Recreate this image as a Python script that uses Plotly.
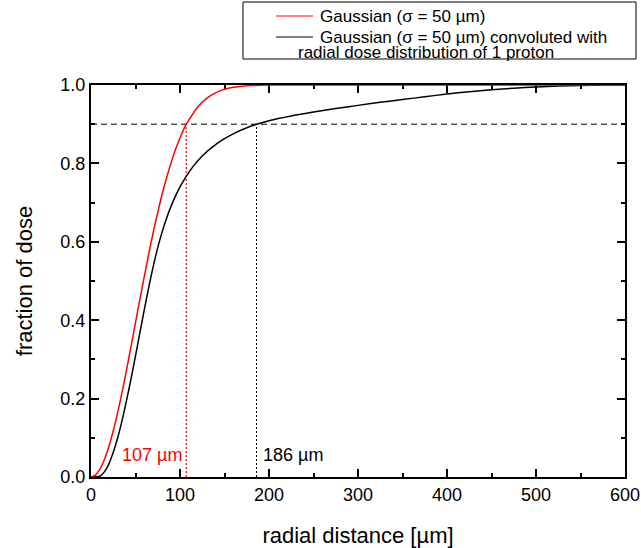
import plotly.graph_objects as go

# ---- data ----
r_gauss = [0, 5, 10, 15, 20, 25, 30, 35, 40, 45, 50, 55, 60, 65, 70, 75, 80, 85, 90, 95,
           100, 107, 110, 120, 130, 140, 150, 160, 170, 180, 200, 250, 300, 400, 500, 600]
f_gauss = [0.0, 0.005, 0.020, 0.044, 0.077, 0.118, 0.165, 0.217, 0.274, 0.333, 0.394,
           0.454, 0.513, 0.570, 0.625, 0.675, 0.722, 0.764, 0.802, 0.836,
           0.865, 0.900, 0.911, 0.944, 0.966, 0.980, 0.989, 0.994, 0.997, 0.9985, 0.9997,
           1.0, 1.0, 1.0, 1.0, 1.0]

r_conv = [0, 5, 10, 15, 20, 25, 30, 35, 40, 45, 50, 55, 60, 65, 70, 75, 80, 85, 90, 95,
          100, 107, 115, 125, 137, 150, 162, 175, 186, 200, 225, 250, 275, 300, 325, 350,
          375, 400, 425, 450, 475, 500, 525, 550, 575, 600]
f_conv = [0.0, 0.0005, 0.002, 0.013, 0.033, 0.063, 0.100, 0.145, 0.196, 0.251, 0.309,
          0.369, 0.428, 0.485, 0.538, 0.585, 0.626, 0.661, 0.691, 0.717,
          0.740, 0.767, 0.793, 0.819, 0.843, 0.863, 0.878, 0.891, 0.900, 0.909, 0.921,
          0.931, 0.940, 0.948, 0.9558, 0.963, 0.970, 0.977, 0.983, 0.988, 0.992, 0.995,
          0.9975, 0.999, 1.0, 1.0]

threshold = 0.9
r90_gauss = 107
r90_conv = 186
x_range = [0, 600]
y_range = [0, 1.0]

legend_names = ["Gaussian (σ = 50 µm)",
                "Gaussian (σ = 50 µm) convoluted with",
                "radial dose distribution of 1 proton"]
RED = "#ff0000"
BLACK = "#000000"
FONT = "Liberation Sans, Arial, sans-serif"

# page geometry (body margin removed by post_script, figure fills the window)
W, H = 641, 548
# plot area in window pixels: left 91, right 625, top 85, bottom 477
L, R, T, B = 91, 641 - 625, 85, 548 - 477
PW, PH = W - L - R, H - T - B


def px_x(x):
    return (x - L) / PW


def px_y(y):
    return (H - B - y) / PH


fig = go.Figure()

# reference lines
fig.add_trace(go.Scatter(x=x_range, y=[threshold, threshold], mode="lines",
                         line=dict(color=BLACK, width=1, dash="6px,4px"),
                         showlegend=False, hoverinfo="skip"))
fig.add_trace(go.Scatter(x=[r90_gauss, r90_gauss], y=[0, threshold], mode="lines",
                         line=dict(color=RED, width=1.2, dash="2px,2px"),
                         showlegend=False, hoverinfo="skip"))
fig.add_trace(go.Scatter(x=[r90_conv, r90_conv], y=[0, threshold], mode="lines",
                         line=dict(color=BLACK, width=1, dash="2px,2px"),
                         showlegend=False, hoverinfo="skip"))

# curves
fig.add_trace(go.Scatter(x=r_conv, y=f_conv, mode="lines", line_shape="spline",
                         line=dict(color=BLACK, width=1.5, smoothing=0.8),
                         name=legend_names[1], showlegend=False))
fig.add_trace(go.Scatter(x=r_gauss, y=f_gauss, mode="lines", line_shape="spline",
                         line=dict(color=RED, width=1.5, smoothing=0.8),
                         name=legend_names[0], showlegend=False))

axis_common = dict(
    showline=True, linewidth=2, linecolor=BLACK, mirror="ticks",
    ticks="inside", ticklen=8, tickwidth=1.5, tickcolor=BLACK,
    showgrid=False, zeroline=False, automargin=False,
    tickfont=dict(family=FONT, size=18, color=BLACK),
    layer="below traces",
)

fig.update_xaxes(range=x_range, tick0=0, dtick=100,
                 minor=dict(ticks="inside", ticklen=4, dtick=50, tickcolor=BLACK, tickwidth=1.5),
                 title=dict(text="radial distance [µm]", font=dict(family=FONT, size=22, color=BLACK),
                            standoff=25),
                 **axis_common)
fig.update_yaxes(range=y_range, tick0=0, dtick=0.2, tickformat=".1f",
                 minor=dict(ticks="inside", ticklen=4, dtick=0.1, tickcolor=BLACK, tickwidth=1.5),
                 title=dict(text="fraction of dose", font=dict(family=FONT, size=22, color=BLACK),
                            standoff=22),
                 **axis_common)

# value labels
fig.add_annotation(x=r90_gauss - 3, y=0.056, text=f"{r90_gauss} µm", showarrow=False,
                   xanchor="right", yanchor="middle",
                   font=dict(family=FONT, size=18, color=RED))
fig.add_annotation(x=r90_conv + 5, y=0.056, text=f"{r90_conv} µm", showarrow=False,
                   xanchor="left", yanchor="middle",
                   font=dict(family=FONT, size=18, color=BLACK))

# legend box (drawn manually)
fig.add_shape(type="rect", xref="paper", yref="paper",
              x0=px_x(243), x1=px_x(636), y0=px_y(59), y1=px_y(2),
              line=dict(color=BLACK, width=1), fillcolor="white", layer="above")
for yy, col in [(16, RED), (37, BLACK)]:
    fig.add_shape(type="line", xref="paper", yref="paper",
                  x0=px_x(276), x1=px_x(313), y0=px_y(yy), y1=px_y(yy),
                  line=dict(color=col, width=1.2), layer="above")
fig.add_annotation(xref="paper", yref="paper", x=px_x(318), y=px_y(16),
                   text=legend_names[0], showarrow=False, xanchor="left", yanchor="middle",
                   font=dict(family=FONT, size=17, color=BLACK))
fig.add_annotation(xref="paper", yref="paper", x=px_x(318), y=px_y(37),
                   text=legend_names[1], showarrow=False, xanchor="left", yanchor="middle",
                   font=dict(family=FONT, size=17, color=BLACK))
fig.add_annotation(xref="paper", yref="paper", x=px_x(296), y=px_y(52),
                   text=legend_names[2], showarrow=False, xanchor="left", yanchor="middle",
                   font=dict(family=FONT, size=17, color=BLACK))

fig.update_layout(
    width=W, height=H,
    margin=dict(l=L, r=R, t=T, b=B, pad=0),
    paper_bgcolor="white", plot_bgcolor="white",
    font=dict(family=FONT, color=BLACK),
    showlegend=False,
)

fig.write_html(
    "out.html",
    config={"displayModeBar": False},
    post_script=(
        "document.documentElement.style.margin='0';"
        "document.body.style.margin='0';"
        "document.documentElement.style.overflow='hidden';"
        "document.body.style.overflow='hidden';"
    ),
)
